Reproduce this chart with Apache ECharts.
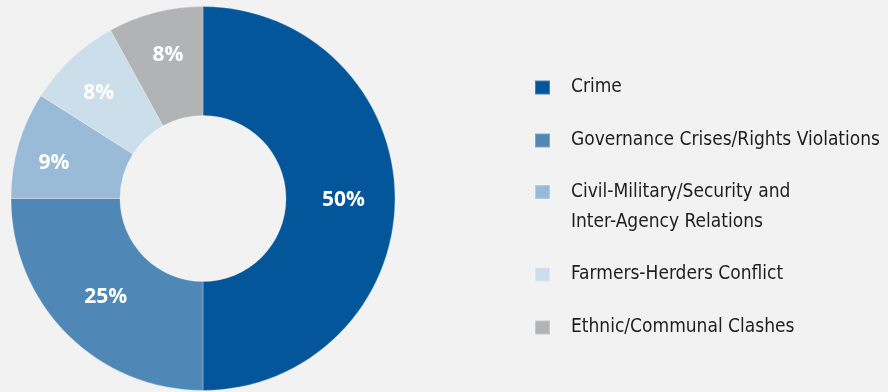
<!DOCTYPE html>
<html>
<head>
<meta charset="utf-8">
<script src="https://cdn.jsdelivr.net/npm/echarts@6/dist/echarts.min.js"></script>
<style>
  html, body { margin: 0; padding: 0; background: #f2f2f2; }
  #chart { width: 888px; height: 392px; }
</style>
</head>
<body>
<div id="chart"></div>
<script>
// Share of incidents by category (percent)
const categories = [
  'Crime',
  'Governance Crises/Rights Violations',
  'Civil-Military/Security and\nInter-Agency Relations',
  'Farmers-Herders Conflict',
  'Ethnic/Communal Clashes'
];
const shares = [50, 25, 9, 8, 8];
const colors = ['#03569a', '#4f88b7', '#99bbd7', '#ccdeea', '#b2b3b5'];

const legendFont = "'Liberation Sans Narrow', 'DejaVu Sans Condensed', 'Liberation Sans', sans-serif";
const legendFontSize = 19;
const lineH = 30;
// vertical centre of each legend marker
const legendRowY = [87.5, 140.5, 192, 274.5, 327.5];
// small nudges for the percentage labels inside the ring
const labelNudge = [[0, 1.5], [2, -1], [-14, 3.5], [-8, -3.5], [0, -7]];

const textRich = {
  s: { height: lineH, lineHeight: lineH, fontSize: legendFontSize, fontFamily: legendFont },
  t: { lineHeight: lineH, fontSize: legendFontSize, fontFamily: legendFont, color: '#1e1e1e' }
};

const legends = categories.map(function (name, i) {
  const lines = name.split('\n');
  const multi = lines.length > 1;
  return {
    orient: 'vertical',
    left: 534,
    // multi-line entry gets a spacer line above so its first line sits on the marker
    top: multi ? legendRowY[i] - (lines.length + 1) * lineH / 2 : legendRowY[i] - lineH / 2,
    padding: 0,
    itemWidth: 15,
    itemHeight: 14,
    icon: 'rect',
    selectedMode: false,
    data: [name],
    formatter: multi
      ? function (n) {
          return '{s|\u00a0}\n' + n.split('\n').map(function (l) { return '{t|' + l + '}'; }).join('\n');
        }
      : '{name}',
    textStyle: {
      color: '#1e1e1e',
      fontSize: legendFontSize,
      fontFamily: legendFont,
      lineHeight: lineH,
      padding: [0, 0, 0, 16],
      rich: textRich
    }
  };
});

const chart = echarts.init(document.getElementById('chart'), null, { renderer: 'canvas' });
chart.setOption({
  backgroundColor: '#f2f2f2',
  animation: false,
  color: colors,
  legend: legends,
  series: [{
    type: 'pie',
    center: [203, 198.5],
    radius: [83, 192],
    startAngle: 90,
    clockwise: true,
    avoidLabelOverlap: false,
    itemStyle: { borderColor: 'rgba(255,255,255,0.25)', borderWidth: 1 },
    label: {
      show: true,
      position: 'inside',
      formatter: '{c}%',
      color: '#ffffff',
      fontSize: 21,
      fontWeight: 'bold',
      fontFamily: "'Open Sans', sans-serif"
    },
    labelLayout: function (p) {
      const d = labelNudge[p.dataIndex];
      return { dx: d[0], dy: d[1] };
    },
    labelLine: { show: false },
    emphasis: { disabled: true },
    data: categories.map(function (name, i) {
      return { name: name, value: shares[i] };
    })
  }]
});
</script>
</body>
</html>
